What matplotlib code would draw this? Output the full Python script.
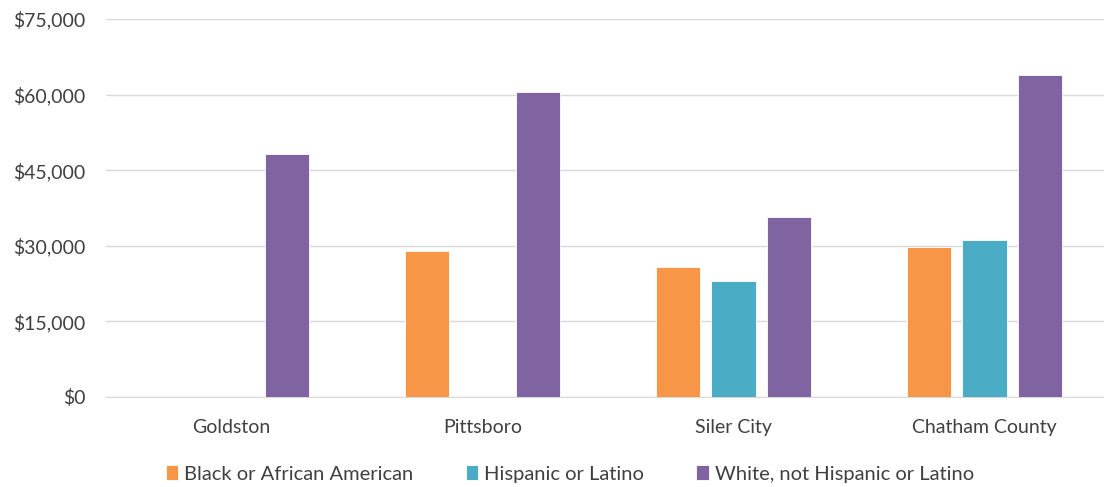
import numpy as np
import matplotlib.pyplot as plt
from matplotlib.ticker import FuncFormatter

plt.rcParams['font.family'] = ['Lato', 'DejaVu Sans']

places = ["Goldston", "Pittsboro", "Siler City", "Chatham County"]
black = [np.nan, 29000, 25800, 29700]
hispanic = [np.nan, np.nan, 23100, 31100]
white = [48300, 60500, 35800, 63800]

series_names = ["Black or African American", "Hispanic or Latino",
                "White, not Hispanic or Latino"]
colors = ["#F79646", "#4BACC6", "#8064A2"]

fig = plt.figure(figsize=(11.04, 4.87), dpi=100)
ax = fig.add_axes([106 / 1104, 90 / 487, 998 / 1104, 378 / 487])

x = np.arange(len(places))
step = 0.221
width = 0.176
for i, (vals, name, c) in enumerate(zip([black, hispanic, white], series_names, colors)):
    ax.bar(x + (i - 1) * step, vals, width, color=c, label=name,
           edgecolor="white", linewidth=0.6, zorder=3)

ax.set_ylim(0, 75000)
ax.set_yticks(np.arange(0, 75001, 15000))
ax.yaxis.set_major_formatter(FuncFormatter(lambda v, p: f"${v:,.0f}"))
ax.set_xlim(-0.5, 998 / 251 - 0.5)
ax.set_xticks(x)
ax.set_xticklabels(places)
ax.grid(axis="y", color="#D9D9D9", linewidth=1, zorder=0)
for s in ["top", "right", "left"]:
    ax.spines[s].set_visible(False)
ax.spines["bottom"].set_color("#D9D9D9")
ax.tick_params(length=0, labelsize=14, colors="#404040", pad=16)
ax.tick_params(axis="y", pad=15)

fig.legend(*ax.get_legend_handles_labels(), loc="center",
           bbox_to_anchor=(570 / 1104, 1 - 474 / 487), ncol=3, frameon=False,
           fontsize=14.5, handlelength=0.6, handleheight=0.7, handletextpad=0.3,
           columnspacing=2.6, labelcolor="#404040")

fig.savefig("out.png", dpi=100)
